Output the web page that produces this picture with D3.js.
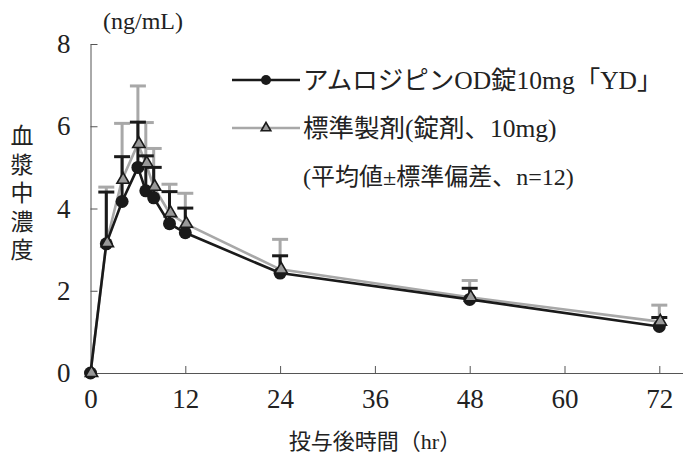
<!DOCTYPE html>
<html lang="ja">
<head>
  <meta charset="UTF-8">
  <title>血漿中濃度</title>
  <script src="https://cdn.jsdelivr.net/npm/d3@7"></script>
  <style>
    body { margin: 0; background: #fff; }
    svg text { font-family: "Liberation Serif", "Noto Sans CJK JP", serif; fill: #222; }
  </style>
</head>
<body>
  <svg width="683" height="459"></svg>
  <script>
    // time after dosing (hr)
    var hours = [0, 2, 4, 6, 7, 8, 10, 12, 24, 48, 72];
    // アムロジピンOD錠10mg「YD」 mean and SD
    var ydMean = [0, 3.14, 4.17, 5.0, 4.43, 4.26, 3.63, 3.41, 2.43, 1.79, 1.13];
    var ydSd   = [0, 1.26, 1.09, 1.10, 0.85, 0.74, 0.78, 0.60, 0.42, 0.27, 0.22];
    // 標準製剤 mean and SD
    var refMean = [0, 3.16, 4.70, 5.57, 5.10, 4.53, 3.89, 3.63, 2.52, 1.84, 1.25];
    var refSd   = [0, 1.36, 1.37, 1.41, 0.99, 0.93, 0.70, 0.74, 0.73, 0.41, 0.40];

    var xTicks = [0, 12, 24, 36, 48, 60, 72];
    var yTicks = [0, 2, 4, 6, 8];

    var svg = d3.select('svg');
    var x = d3.scaleLinear().domain([0, 75]).range([90.5, 683]);
    var y = d3.scaleLinear().domain([0, 8]).range([373, 44]);

    svg.append('g')
      .attr('transform', 'translate(0,' + y(0) + ')')
      .call(d3.axisBottom(x).tickValues(xTicks).tickSizeInner(-7).tickSizeOuter(0).tickPadding(16));
    svg.append('g')
      .attr('transform', 'translate(' + x(0) + ',0)')
      .call(d3.axisLeft(y).tickValues(yTicks).tickSizeInner(-7).tickSizeOuter(0).tickPadding(20));
    svg.selectAll('.domain, .tick line').attr('stroke', '#555').attr('stroke-width', 1);
    svg.selectAll('.tick text').attr('font-size', 27).attr('fill', '#222')
      .attr('font-family', '"Liberation Serif", serif');

    function seriesData(means, sds) {
      return hours.map(function(h, i) { return { t: h, v: means[i], sd: sds[i] }; });
    }
    var yd = seriesData(ydMean, ydSd);
    var ref = seriesData(refMean, refSd);

    var line = d3.line().x(function(d) { return x(d.t); }).y(function(d) { return y(d.v); });

    svg.append('path').datum(ref).attr('fill', 'none').attr('stroke', '#a8a8a8')
      .attr('stroke-width', 2.6).attr('d', line);
    svg.append('path').datum(yd).attr('fill', 'none').attr('stroke', '#1a1a1a')
      .attr('stroke-width', 2.6).attr('d', line);

    function errorBars(data, color) {
      var g = svg.append('g').attr('stroke', color).attr('stroke-width', 3);
      var bars = data.filter(function(d) { return d.sd > 0; });
      g.selectAll('.stem').data(bars).enter().append('line')
        .attr('x1', function(d) { return x(d.t); }).attr('x2', function(d) { return x(d.t); })
        .attr('y1', function(d) { return y(d.v); }).attr('y2', function(d) { return y(d.v + d.sd); });
      g.selectAll('.cap').data(bars).enter().append('line')
        .attr('x1', function(d) { return x(d.t) - 8; }).attr('x2', function(d) { return x(d.t) + 8; })
        .attr('y1', function(d) { return y(d.v + d.sd); }).attr('y2', function(d) { return y(d.v + d.sd); });
    }
    errorBars(ref, '#a8a8a8');
    errorBars(yd, '#1a1a1a');

    svg.append('g').selectAll('circle').data(yd).enter().append('circle')
      .attr('cx', function(d) { return x(d.t); }).attr('cy', function(d) { return y(d.v); })
      .attr('r', 6.5).attr('fill', '#1a1a1a');

    var tri = d3.symbol().type(d3.symbolTriangle).size(66);
    svg.append('g').selectAll('path').data(ref).enter().append('path')
      .attr('transform', function(d) { return 'translate(' + (x(d.t) + 1) + ',' + y(d.v) + ')'; })
      .attr('d', tri).attr('fill', '#999').attr('stroke', '#1a1a1a').attr('stroke-width', 1.6);

    // legend
    var legend = svg.append('g');
    legend.append('line').attr('x1', 232).attr('x2', 300).attr('y1', 80).attr('y2', 80)
      .attr('stroke', '#1a1a1a').attr('stroke-width', 2.6);
    legend.append('circle').attr('cx', 266).attr('cy', 80).attr('r', 5).attr('fill', '#1a1a1a');
    legend.append('line').attr('x1', 232).attr('x2', 300).attr('y1', 128).attr('y2', 128)
      .attr('stroke', '#a8a8a8').attr('stroke-width', 2.6);
    legend.append('path').attr('transform', 'translate(266,128)').attr('d', d3.symbol().type(d3.symbolTriangle).size(40))
      .attr('fill', '#999').attr('stroke', '#1a1a1a').attr('stroke-width', 1.6);
    var legendText = ['アムロジピンOD錠10mg「YD」', '標準製剤(錠剤、10mg)', '(平均値±標準偏差、n=12)'];
    legend.selectAll('text').data(legendText).enter().append('text')
      .attr('x', 303).attr('y', function(d, i) { return 89 + i * 48; })
      .attr('font-size', function(d, i) { return i < 2 ? 25.5 : 24; })
      .text(function(d) { return d; });

    // axis titles
    svg.append('text').attr('x', 103).attr('y', 29).attr('font-size', 24).text('(ng/mL)');
    svg.append('text').attr('x', 375).attr('y', 449).attr('text-anchor', 'middle')
      .attr('font-size', 22).text('投与後時間（hr）');
    svg.append('g').selectAll('text').data('血漿中濃度'.split('')).enter().append('text')
      .attr('x', 22).attr('y', function(d, i) { return 144 + i * 28.5; })
      .attr('text-anchor', 'middle').attr('font-size', 23).text(function(d) { return d; });
  </script>
</body>
</html>
